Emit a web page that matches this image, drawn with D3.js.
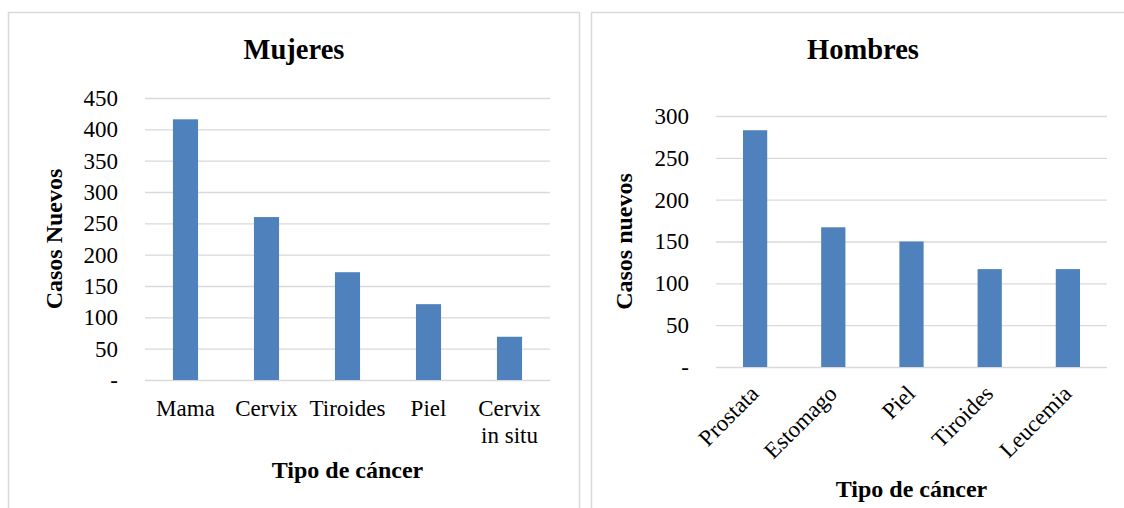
<!DOCTYPE html>
<html>
<head>
<meta charset="utf-8">
<script src="https://cdn.jsdelivr.net/npm/d3@7"></script>
<style>
  body { margin: 0; background: #fff; }
  svg { display: block; font-family: "Liberation Serif", "Times New Roman", serif; }
</style>
</head>
<body>
<svg id="chart" width="1124" height="508"></svg>
<script>
// data
var mujeresCats = ["Mama", "Cervix", "Tiroides", "Piel", "Cervix in situ"];
var mujeresVals = [416, 260, 172, 121, 69];
var mujeresTicks = [0, 50, 100, 150, 200, 250, 300, 350, 400, 450];

var hombresCats = ["Prostata", "Estomago", "Piel", "Tiroides", "Leucemia"];
var hombresVals = [283, 167, 150, 117, 117];
var hombresTicks = [0, 50, 100, 150, 200, 250, 300];

var svg = d3.select("#chart");
var grid = "#d9d9d9", barColor = "#4f81bd";

function tickFmt(d) { return d === 0 ? "-" : d; }

function drawPanel(p) {
    // panel frame
    svg.append("rect")
        .attr("x", p.frame[0]).attr("y", 12.5)
        .attr("width", p.frame[1] - p.frame[0]).attr("height", 520)
        .attr("fill", "none").attr("stroke", grid).attr("stroke-width", 1.5);

    var x = d3.scaleBand()
        .domain(p.cats)
        .range([p.left, p.right])
        .paddingInner(0.69)
        .paddingOuter(0.345);

    var y = d3.scaleLinear()
        .domain([0, d3.max(p.ticks)])
        .range([p.bottom, p.top]);

    var yAxis = svg.append("g")
        .attr("transform", "translate(" + p.left + ",0)")
        .call(d3.axisLeft(y)
            .tickValues(p.ticks)
            .tickSizeInner(-(p.right - p.left))
            .tickSizeOuter(0)
            .tickPadding(27)
            .tickFormat(tickFmt));
    yAxis.select(".domain").remove();
    yAxis.selectAll("line").attr("stroke", grid).attr("stroke-width", 1.4);
    yAxis.selectAll("text")
        .attr("font-family", "Liberation Serif")
        .attr("font-size", 23)
        .attr("fill", "#000");

    svg.append("g").selectAll("rect")
        .data(p.vals)
        .enter().append("rect")
        .attr("x", function(d, i) { return x(p.cats[i]); })
        .attr("y", function(d) { return y(d); })
        .attr("width", x.bandwidth())
        .attr("height", function(d) { return y(0) - y(d); })
        .attr("fill", barColor);

    // category labels
    var lab = svg.append("g")
        .attr("font-size", 23)
        .attr("fill", "#000");
    p.cats.forEach(function(c) {
        var cx = x(c) + x.bandwidth() / 2;
        if (p.rotate) {
            lab.append("text")
                .attr("transform", "translate(" + (cx + 5) + "," + (p.bottom + 28) + ") rotate(-45)")
                .attr("text-anchor", "end")
                .text(c);
        } else {
            var words = c === "Cervix in situ" ? ["Cervix", "in situ"] : [c];
            var t = lab.append("text")
                .attr("text-anchor", "middle")
                .attr("x", cx)
                .attr("y", p.bottom + 36);
            words.forEach(function(w, k) {
                t.append("tspan").attr("x", cx).attr("dy", k === 0 ? 0 : 27).text(w);
            });
        }
    });

    svg.append("text")
        .attr("x", p.titleX).attr("y", 59)
        .attr("text-anchor", "middle")
        .attr("font-size", 28.5).attr("font-weight", "bold")
        .text(p.title);

    svg.append("text")
        .attr("transform", "translate(" + p.yTitleX + "," + ((p.top + p.bottom) / 2) + ") rotate(-90)")
        .attr("text-anchor", "middle")
        .attr("font-size", 24).attr("font-weight", "bold")
        .text(p.yTitle);

    svg.append("text")
        .attr("x", (p.left + p.right) / 2).attr("y", p.xTitleY)
        .attr("text-anchor", "middle")
        .attr("font-size", 24).attr("font-weight", "bold")
        .text("Tipo de cáncer");
}

drawPanel({
    cats: mujeresCats, vals: mujeresVals, ticks: mujeresTicks,
    frame: [8.5, 579.5], left: 145, right: 550, top: 98, bottom: 380,
    title: "Mujeres", titleX: 294, yTitle: "Casos Nuevos", yTitleX: 62,
    xTitleY: 478, rotate: false
});

drawPanel({
    cats: hombresCats, vals: hombresVals, ticks: hombresTicks,
    frame: [591.5, 1140], left: 716, right: 1107, top: 116, bottom: 367,
    title: "Hombres", titleX: 863, yTitle: "Casos nuevos", yTitleX: 632,
    xTitleY: 497, rotate: true
});
</script>
</body>
</html>
